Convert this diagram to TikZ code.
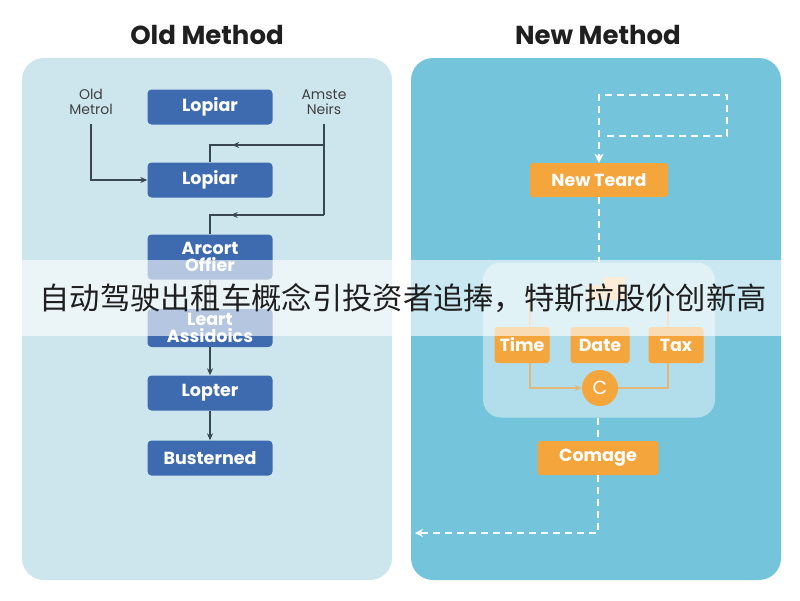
\documentclass[tikz,border=0pt]{standalone}
\usepackage{fontspec}
\setmainfont{Poppins}
\newfontfamily\cjk{Noto Sans CJK SC}
\usetikzlibrary{arrows.meta,decorations.markings}

\definecolor{oldbg}{HTML}{CDE6EE}
\definecolor{newbg}{HTML}{74C4DC}
\definecolor{boxblue}{HTML}{3E6BAF}
\definecolor{boxorange}{HTML}{F4A53C}
\definecolor{wiregray}{HTML}{3A4750}
\definecolor{linktan}{HTML}{E2B77A}
\definecolor{barorange}{HTML}{F8CF9A}

\begin{document}
\begin{tikzpicture}[x=1pt, y=-1pt,
	panel/.style={rounded corners=22pt, minimum width=370pt, minimum height=522pt, inner sep=0pt},
	title/.style={font=\bfseries\fontsize{26}{30}\selectfont, text=black!88},
	oldbox/.style={fill=boxblue, rounded corners=4pt, minimum width=125pt, minimum height=35pt, text=white, font=\bfseries\fontsize{17.5}{17}\selectfont, align=center, inner sep=0pt},
	newbox/.style={fill=boxorange, rounded corners=3pt, minimum height=34pt, text=white, font=\bfseries\fontsize{17.5}{17}\selectfont, inner sep=0pt},
	note/.style={font=\fontsize{14}{15}\selectfont, text=black!75, align=center},
	wire/.style={draw=wiregray, line width=1.2pt},
	link/.style={draw=linktan, line width=1.2pt},
	flow/.style={draw=white, line width=2pt, dash pattern=on 7pt off 5pt},
	midarrow/.style={decoration={markings, mark=at position #1 with {\arrow{Stealth[length=7pt,width=6pt]}}}, postaction={decorate}},
]
	\useasboundingbox (0,0) rectangle (800,600);
	% Panels and titles:
	\node[panel, fill=oldbg] (oldpanel) at (207,319) {};
	\node[panel, fill=newbg] (newpanel) at (596,319) {};
	\node[title] (oldtitle) at (207,35) {Old Method};
	\node[title] (newtitle) at (598,35) {New Method};

	% Old method boxes:
	\node[oldbox] (lopA) at (210,107) {Lopiar};
	\node[oldbox] (lopB) at (210,180) {Lopiar};
	\node[oldbox, minimum height=45pt] (offer) at (210,257) {Arcort\\Offier};
	\node[oldbox, minimum height=38pt] (assist) at (210,328) {Leart\\Assidoics};
	\node[oldbox] (lopC) at (210,393) {Lopter};
	\node[oldbox] (bust) at (210,458) {Busterned};
	\node[note] (oldnote) at (91,102) {Old\\Metrol};
	\node[note] (amste) at (324,102) {Amste\\Neirs};
	\coordinate (jA) at (amste.south |- 0,145);
	\coordinate (jB) at (amste.south |- 0,215);

	% Old method wires:
	\draw[wire, shorten <=6pt, -{Stealth[length=7pt,width=6pt]}] (oldnote.south) |- (lopB.west);
	\draw[wire, shorten <=6pt] (amste.south) -- (jB);
	\draw[wire, midarrow=0.7] (jA) -| (lopB.north);
	\draw[wire, midarrow=0.7] (jB) -| (offer.north);
	\draw[wire] (offer) -- (assist);
	\draw[wire, -{Stealth[length=7pt,width=6pt]}] (assist) -- (lopC);
	\draw[wire, -{Stealth[length=7pt,width=6pt]}] (lopC) -- (bust);

	% New method boxes:
	\node[newbox, minimum width=138pt] (teard) at (599,180) {New Teard};
	\node[rounded corners=18pt, fill=white, fill opacity=0.45, minimum width=232pt, minimum height=155pt] (mixer) at (599,340) {};
	\fill[barorange] (587,285) rectangle (602,300);
	\fill[barorange] (603,277) rectangle (625,300);
	\node[newbox, minimum width=55pt, minimum height=36pt] (time) at (522,345) {Time};
	\node[newbox, minimum width=59pt, minimum height=36pt] (date) at (600,345) {Date};
	\node[newbox, minimum width=55pt, minimum height=36pt] (tax) at (676,345) {Tax};
	\node[circle, fill=boxorange, minimum size=36pt, inner sep=0pt, text=white, font=\fontsize{19}{19}\selectfont] (cnode) at (600,388) {C};
	\node[newbox, minimum width=121pt] (comage) at (598,458) {Comage};

	% New method links and flows:
	\draw[link] ([xshift=8pt]time.north) -- ++(0,-35);
	\draw[link] ([xshift=-8pt]tax.north) -- ++(0,-35);
	\draw[link, -{Stealth[length=7pt,width=6pt]}] ([xshift=8pt]time.south) |- (cnode.west);
	\draw[link] (cnode.east) -| ([xshift=-8pt]tax.south);
	\coordinate (loopA) at (607,136);
	\coordinate (loopB) at (727,136);
	\coordinate (loopC) at (727,95);
	\coordinate (loopD) at (teard.north |- 0,95);
	\draw[flow, -{Stealth[length=9pt,width=9pt]}] (loopA) -- (loopB) -- (loopC) -- (loopD) -- (teard.north);
	\draw[flow] (teard.south) -- (mixer.north -| teard.south);
	\draw[flow] (mixer.south -| comage.north) -- (comage.north);
	\coordinate (exitA) at (comage.south |- 0,533);
	\coordinate (exitB) at (415,533);
	\draw[flow, -{Stealth[length=8pt,width=8pt]}] (comage.south) -- (exitA) -- (exitB);

	% Headline banner:
	\node[fill=white, fill opacity=0.62, text opacity=1, minimum width=764pt, minimum height=76pt, inner sep=0pt, text=black!88, font=\cjk\fontsize{30.3}{31}\selectfont] (headline) at (403,298) {自动驾驶出租车概念引投资者追捧，特斯拉股价创新高};
\end{tikzpicture}
\end{document}
